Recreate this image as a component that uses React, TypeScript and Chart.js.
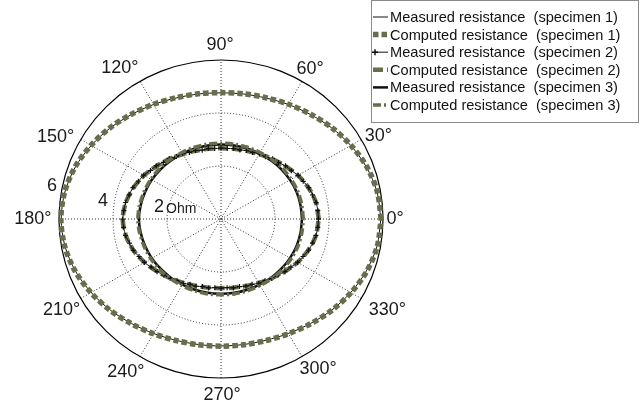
import React, { useEffect, useRef } from 'react';
import { Chart, registerables } from 'chart.js';

Chart.register(...registerables);

const W = 641;
const H = 409;

// polar axis setup
const R_MAX = 6;
const RING_VALUES = [2, 4, 6];
const RING_LABELS = ['2', '4', '6'];
const SPOKE_ANGLES = [0, 30, 60, 90, 120, 150, 180, 210, 240, 270, 300, 330];
const ANGLE_LABELS = ['0°', '30°', '60°', '90°', '120°', '150°', '180°', '210°', '240°', '270°', '300°', '330°'];
const UNIT_LABEL = 'Ohm';

// angles (degrees) at which radii were read
const ANGLES_10 = [0, 10, 20, 30, 40, 50, 60, 70, 80, 90, 100, 110, 120, 130, 140, 150, 160, 170, 180, 190, 200, 210, 220, 230, 240, 250, 260, 270, 280, 290, 300, 310, 320, 330, 340, 350];
const ANGLES_5 = [0, 5, 10, 15, 20, 25, 30, 35, 40, 45, 50, 55, 60, 65, 70, 75, 80, 85, 90, 95, 100, 105, 110, 115, 120, 125, 130, 135, 140, 145, 150, 155, 160, 165, 170, 175, 180, 185, 190, 195, 200, 205, 210, 215, 220, 225, 230, 235, 240, 245, 250, 255, 260, 265, 270, 275, 280, 285, 290, 295, 300, 305, 310, 315, 320, 325, 330, 335, 340, 345, 350, 355];

// resistance (Ohm)
const MEASURED_1 = [5.92, 5.87, 5.73, 5.55, 5.35, 5.15, 4.99, 4.86, 4.79, 4.76, 4.79, 4.86, 4.99, 5.15, 5.35, 5.55, 5.74, 5.87, 5.92, 5.87, 5.74, 5.55, 5.35, 5.15, 4.99, 4.87, 4.81, 4.79, 4.81, 4.87, 4.99, 5.15, 5.35, 5.55, 5.73, 5.87];
const COMPUTED_1 = [5.93, 5.88, 5.75, 5.56, 5.36, 5.16, 5.0, 4.87, 4.8, 4.77, 4.8, 4.87, 5.0, 5.16, 5.36, 5.56, 5.75, 5.88, 5.93, 5.88, 5.75, 5.56, 5.36, 5.16, 5.0, 4.88, 4.82, 4.8, 4.82, 4.88, 5.0, 5.16, 5.36, 5.56, 5.75, 5.88];
const MEASURED_2 = [3.61, 3.6, 3.58, 3.51, 3.46, 3.36, 3.3, 3.18, 3.12, 3.01, 2.97, 2.87, 2.84, 2.77, 2.75, 2.7, 2.7, 2.67, 2.68, 2.67, 2.7, 2.69, 2.75, 2.77, 2.85, 2.88, 2.98, 3.02, 3.13, 3.19, 3.31, 3.37, 3.47, 3.52, 3.59, 3.61, 3.64, 3.62, 3.59, 3.51, 3.46, 3.35, 3.28, 3.16, 3.09, 2.99, 2.93, 2.84, 2.8, 2.72, 2.7, 2.64, 2.64, 2.6, 2.61, 2.6, 2.64, 2.64, 2.7, 2.72, 2.8, 2.84, 2.93, 2.99, 3.09, 3.16, 3.28, 3.35, 3.45, 3.51, 3.57, 3.6];
const COMPUTED_2 = [3.62, 3.57, 3.45, 3.29, 3.11, 2.96, 2.83, 2.74, 2.69, 2.67, 2.69, 2.74, 2.83, 2.96, 3.11, 3.29, 3.45, 3.58, 3.64, 3.58, 3.45, 3.27, 3.08, 2.92, 2.79, 2.69, 2.63, 2.61, 2.63, 2.69, 2.79, 2.92, 3.08, 3.27, 3.44, 3.57];
const MEASURED_3 = [3.0, 2.99, 2.98, 2.95, 2.92, 2.88, 2.85, 2.83, 2.82, 2.81, 2.82, 2.83, 2.85, 2.88, 2.92, 2.96, 2.99, 3.02, 3.04, 3.02, 2.99, 2.96, 2.92, 2.89, 2.86, 2.84, 2.83, 2.82, 2.83, 2.84, 2.86, 2.89, 2.92, 2.95, 2.98, 2.99];
const COMPUTED_3 = [3.05, 3.04, 3.03, 3.0, 2.97, 2.93, 2.9, 2.88, 2.87, 2.86, 2.87, 2.88, 2.9, 2.93, 2.97, 3.0, 3.03, 3.06, 3.08, 3.06, 3.03, 3.0, 2.97, 2.93, 2.9, 2.88, 2.87, 2.86, 2.87, 2.88, 2.9, 2.93, 2.97, 3.0, 3.03, 3.04];

const SERIES_LABELS = [
  'Measured resistance  (specimen 1)',
  'Computed resistance  (specimen 1)',
  'Measured resistance  (specimen 2)',
  'Computed resistance  (specimen 2)',
  'Measured resistance  (specimen 3)',
  'Computed resistance  (specimen 3)',
];

// label placement tweaks (pixels), layout only
const ANGLE_LABEL_SHIFT = [[-4, 0], [3, 4], [0, 1], [-1, 1], [-12, 0], [-11, 5], [-10, 0], [-5, 4], [-6, 2], [1, 1], [8, -1], [12, 4]];
const RING_LABEL_SHIFT = [[-2, 0], [-5, 5], [-3, 0]];

const BLACK = '#111111';
const OLIVE = '#6a6d4c';
const FONT = '"Liberation Sans", Arial, sans-serif';

function toXY(angles: number[], radii: number[]) {
  const pts = angles.map((a, i) => {
    const t = (a * Math.PI) / 180;
    return { x: radii[i] * Math.cos(t), y: radii[i] * Math.sin(t) };
  });
  pts.push({ ...pts[0] });
  return pts;
}

const polarGrid = {
  id: 'polarGrid',
  beforeDatasetsDraw(chart: any) {
    const { ctx } = chart;
    const xs = chart.scales.x;
    const ys = chart.scales.y;
    const cx = xs.getPixelForValue(0);
    const cy = ys.getPixelForValue(0);
    const ux = xs.getPixelForValue(1) - cx;
    const uy = cy - ys.getPixelForValue(1);
    ctx.save();
    ctx.strokeStyle = '#2a2a2a';
    ctx.lineWidth = 1;
    ctx.setLineDash([1, 2]);
    RING_VALUES.forEach((r) => {
      if (r >= R_MAX) return;
      ctx.beginPath();
      ctx.ellipse(cx, cy, r * ux, r * uy, 0, 0, Math.PI * 2);
      ctx.stroke();
    });
    SPOKE_ANGLES.forEach((a) => {
      if (a >= 180) return;
      const t = (a * Math.PI) / 180;
      ctx.beginPath();
      ctx.moveTo(cx - R_MAX * ux * Math.cos(t), cy + R_MAX * uy * Math.sin(t));
      ctx.lineTo(cx + R_MAX * ux * Math.cos(t), cy - R_MAX * uy * Math.sin(t));
      ctx.stroke();
    });
    ctx.setLineDash([]);
    ctx.strokeStyle = '#000000';
    ctx.lineWidth = 1.2;
    ctx.beginPath();
    ctx.ellipse(cx, cy, R_MAX * ux, R_MAX * uy, 0, 0, Math.PI * 2);
    ctx.stroke();
    ctx.fillStyle = '#1a1a1a';
    ctx.font = `18px ${FONT}`;
    ctx.textAlign = 'center';
    ctx.textBaseline = 'middle';
    SPOKE_ANGLES.forEach((a, i) => {
      const t = (a * Math.PI) / 180;
      const rr = R_MAX * 1.1;
      const [dx, dy] = ANGLE_LABEL_SHIFT[i];
      ctx.fillText(ANGLE_LABELS[i], cx + rr * ux * Math.cos(t) + dx, cy - rr * uy * Math.sin(t) + dy);
    });
    ctx.textAlign = 'left';
    RING_VALUES.forEach((r, i) => {
      const t = (169 * Math.PI) / 180;
      const rr = r + 0.45;
      const [dx, dy] = RING_LABEL_SHIFT[i];
      const x = cx + rr * ux * Math.cos(t) + dx;
      const y = cy - rr * uy * Math.sin(t) + dy;
      ctx.font = `18px ${FONT}`;
      ctx.fillText(RING_LABELS[i], x, y);
      if (i === 0) {
        const w = ctx.measureText(RING_LABELS[i]).width;
        ctx.font = `14px ${FONT}`;
        ctx.fillText(UNIT_LABEL, x + w + 2, y + 3);
      }
    });
    ctx.restore();
  },
};

const customLegend = {
  id: 'customLegend',
  afterDraw(chart: any) {
    const { ctx } = chart;
    ctx.save();
    const bx = 371.5;
    const by = 0.5;
    const bw = 267;
    const bh = 122;
    ctx.fillStyle = '#ffffff';
    ctx.fillRect(bx, by, bw, bh);
    ctx.strokeStyle = '#8a8a8a';
    ctx.lineWidth = 1;
    ctx.strokeRect(bx, by, bw, bh);
    chart.data.datasets.forEach((ds: any, i: number) => {
      const y = 17 + i * 17.6;
      const x1 = 373;
      const x2 = 388;
      ctx.strokeStyle = ds.borderColor;
      ctx.lineWidth = ds.borderWidth;
      ctx.setLineDash(ds.borderDash || []);
      ctx.beginPath();
      ctx.moveTo(x1, y);
      ctx.lineTo(x2, y);
      ctx.stroke();
      ctx.setLineDash([]);
      if (ds.pointStyle === 'cross') {
        ctx.lineWidth = 1.5;
        ctx.beginPath();
        ctx.moveTo(x1 + 2, y - 3);
        ctx.lineTo(x1 + 2, y + 3);
        ctx.moveTo(x1 - 1, y);
        ctx.lineTo(x1 + 5, y);
        ctx.stroke();
      }
      ctx.fillStyle = '#111111';
      ctx.font = `14.6px ${FONT}`;
      ctx.textAlign = 'left';
      ctx.textBaseline = 'middle';
      ctx.fillText(ds.label, 390, y + 1);
    });
    ctx.restore();
  },
};

export default function App() {
  const ref = useRef<HTMLCanvasElement | null>(null);
  useEffect(() => {
    if (!ref.current) return;
    const chart = new Chart(ref.current, {
      type: 'scatter',
      data: {
        datasets: [
          {
            label: SERIES_LABELS[0],
            data: toXY(ANGLES_10, MEASURED_1),
            showLine: true,
            borderColor: BLACK,
            borderWidth: 1,
            pointRadius: 0,
            tension: 0.3,
            clip: false,
            order: 6,
          },
          {
            label: SERIES_LABELS[1],
            data: toXY(ANGLES_10, COMPUTED_1),
            showLine: true,
            borderColor: OLIVE,
            borderWidth: 5.5,
            borderDash: [5.5, 3],
            pointRadius: 0,
            tension: 0.3,
            clip: false,
            order: 5,
          },
          {
            label: SERIES_LABELS[2],
            data: toXY(ANGLES_5, MEASURED_2),
            showLine: true,
            borderColor: BLACK,
            backgroundColor: BLACK,
            borderWidth: 1,
            pointStyle: 'cross',
            pointRadius: 2.5,
            pointBorderWidth: 1.2,
            pointBorderColor: BLACK,
            tension: 0.2,
            clip: false,
            order: 2,
          },
          {
            label: SERIES_LABELS[3],
            data: toXY(ANGLES_10, COMPUTED_2),
            showLine: true,
            borderColor: OLIVE,
            borderWidth: 4.5,
            borderDash: [10, 4],
            pointRadius: 0,
            tension: 0.3,
            clip: false,
            order: 3,
          },
          {
            label: SERIES_LABELS[4],
            data: toXY(ANGLES_10, MEASURED_3),
            showLine: true,
            borderColor: BLACK,
            borderWidth: 2.5,
            pointRadius: 0,
            tension: 0.3,
            clip: false,
            order: 4,
          },
          {
            label: SERIES_LABELS[5],
            data: toXY(ANGLES_10, COMPUTED_3),
            showLine: true,
            borderColor: OLIVE,
            borderWidth: 3.5,
            borderDash: [8, 3, 2, 3],
            pointRadius: 0,
            tension: 0.3,
            clip: false,
            order: 1,
          },
        ],
      },
      options: {
        animation: false,
        responsive: false,
        maintainAspectRatio: false,
        layout: { padding: { left: 59, right: W - 383, top: 60, bottom: H - 378 } },
        scales: {
          x: { type: 'linear', min: -R_MAX, max: R_MAX, display: false },
          y: { type: 'linear', min: -R_MAX, max: R_MAX, display: false },
        },
        plugins: {
          legend: { display: false },
          tooltip: { enabled: false },
        },
      },
      plugins: [polarGrid, customLegend],
    });
    return () => chart.destroy();
  }, []);
  return (
    <div style={{ position: 'fixed', left: 0, top: 0, width: W, height: H, background: '#fff' }}>
      <canvas ref={ref} width={W} height={H} style={{ width: W, height: H, display: 'block' }} />
    </div>
  );
}
